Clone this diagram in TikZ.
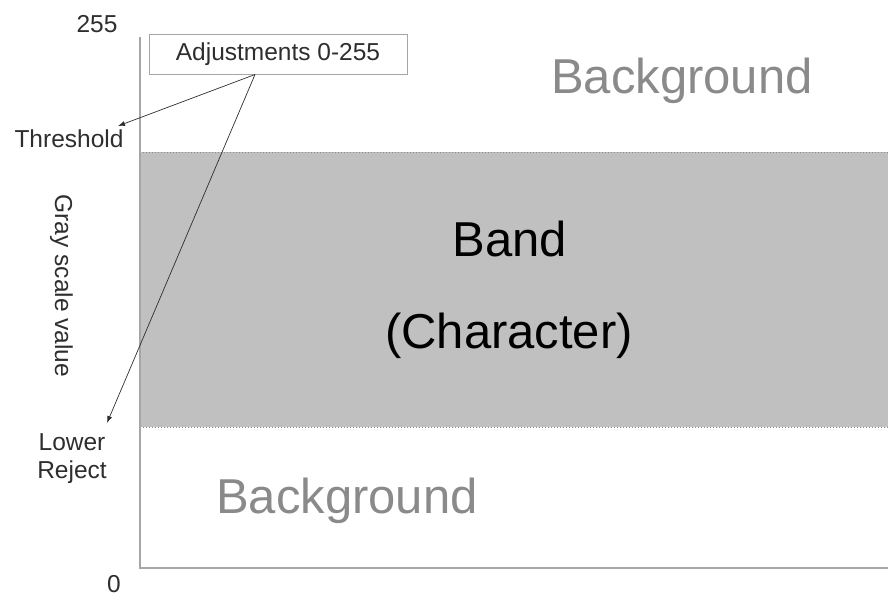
\documentclass[tikz,border=0pt]{standalone}
\usepackage{fontspec}
\setmainfont{Liberation Sans}
\usetikzlibrary{arrows.meta}
\definecolor{gris}{HTML}{C0C0C0}
\definecolor{tinta}{HTML}{2E2E2E}
\definecolor{fondo}{HTML}{8A8A8A}
\definecolor{eje}{HTML}{A6A6A6}

\begin{document}
\begin{tikzpicture}[x=1pt,y=-1pt,
  lbl/.style={font=\fontsize{24.5}{28}\selectfont,text=tinta,inner sep=0pt,align=center},
  big/.style={font=\fontsize{49}{56}\selectfont,inner sep=0pt},
  flecha/.style={draw=tinta,line width=0.7pt,-{Latex[length=7pt,width=5pt]}}]
\useasboundingbox (0,0) rectangle (888,598);
% band and axes
\fill[gris] (140,152) rectangle (888,427);
\draw[fondo,dotted,line width=1pt] (140,152) -- (888,152) (140,427) -- (888,427);
\draw[eje,line width=2pt] (140,37) -- (140,568) -- (888,568);
% axis labels
\node[lbl,anchor=base] (max) at (97,32) {255};
\node[lbl,anchor=base] (min) at (114,592) {0};
\node[lbl,anchor=base] (thr) at (69,147) {Threshold};
\node[lbl,anchor=base] (low) at (72,478) {Lower\\Reject};
\node[lbl,rotate=-90,anchor=base] (gsv) at (55,286) {Gray scale value};
\node[lbl,draw=eje,line width=1pt,minimum width=258,minimum height=40] (adj) at (278,54) {Adjustments 0-255};
% regions
\node[big,text=fondo,anchor=base] (bgtop) at (682,93) {Background};
\node[big,text=fondo,anchor=base] (bgbot) at (347,513) {Background};
\node[big,anchor=base] (band) at (510,256) {Band};
\node[big,anchor=base] (chr) at (509,348) {(Character)};
% arrows
\coordinate (src) at ([xshift=-23pt]adj.south);
\coordinate (thrtip) at (118,126);
\coordinate (lowtip) at (107,423);
\draw[flecha] (src) -- (thrtip);
\draw[flecha] (src) -- (lowtip);
\end{tikzpicture}
\end{document}
